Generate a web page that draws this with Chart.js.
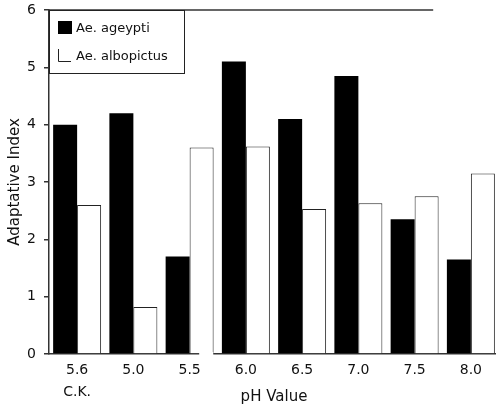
<!DOCTYPE html>
<html><head><meta charset="utf-8">
<script src="https://cdn.jsdelivr.net/npm/chart.js@4"></script>
<style>html,body{margin:0;padding:0;background:#fff;overflow:hidden}</style></head>
<body><canvas id="c" width="500" height="408"></canvas>
<script>
const categories = [["5.6","C.K."],"5.0","5.5","6.0","6.5","7.0","7.5","8.0"];
const ageypti = [4.0, 4.2, 1.7, 5.1, 4.1, 4.85, 2.35, 1.65];
const albopictus = [2.6, 0.82, 3.6, 3.62, 2.53, 2.63, 2.75, 3.15];
const seriesNames = ["Ae. ageypti", "Ae. albopictus"];
const yMin = 0, yMax = 6, yStep = 1;

const FONT = 'DejaVu Sans';
const INK = '#111';
const AXIS = '#333';

const framePlugin = {
  id: 'frame',
  afterDatasetsDraw(chart) {
    const {ctx, chartArea: {left, top, bottom}} = chart;
    const xs = chart.scales.x;
    const cw = xs.getPixelForValue(1) - xs.getPixelForValue(0);
    ctx.save();
    // top frame line (partial, as in the original)
    ctx.strokeStyle = AXIS; ctx.lineWidth = 1.5;
    ctx.beginPath(); ctx.moveTo(left, top); ctx.lineTo(xs.getPixelForValue(6) + 0.33 * cw, top); ctx.stroke();
    // axis break between 5.5 and 6.0
    ctx.fillStyle = '#fff';
    const g0 = xs.getPixelForValue(2) + 0.17 * cw, g1 = xs.getPixelForValue(2) + 0.42 * cw;
    ctx.fillRect(g0, bottom - 2, g1 - g0, 4);
    // legend box
    const w = 135, h = 63;
    ctx.fillStyle = '#fff'; ctx.fillRect(left, top, w, h);
    ctx.strokeStyle = '#222'; ctx.lineWidth = 1;
    ctx.strokeRect(left + 0.5, top + 0.5, w, h);
    chart.data.datasets.forEach((ds, i) => {
      const sy = top + 11 + i * 28, sx = left + 9;
      if (i === 0) { ctx.fillStyle = ds.backgroundColor; ctx.fillRect(sx, sy, 14, 13); }
      else {
        ctx.strokeStyle = ds.borderColor; ctx.beginPath();
        ctx.moveTo(sx + 0.5, sy); ctx.lineTo(sx + 0.5, sy + 12.5); ctx.lineTo(sx + 13, sy + 12.5); ctx.stroke();
      }
      ctx.fillStyle = INK; ctx.font = '13px "' + FONT + '"'; ctx.textBaseline = 'middle'; ctx.textAlign = 'left';
      ctx.fillText(ds.label, left + 27, sy + 8);
    });
    ctx.restore();
  }
};

new Chart(document.getElementById('c'), {
  type: 'bar',
  data: {
    labels: categories,
    datasets: [
      { label: seriesNames[0], data: ageypti, backgroundColor: '#000', borderWidth: 0 },
      { label: seriesNames[1], data: albopictus, backgroundColor: '#fff', borderColor: '#222', borderWidth: 1 }
    ]
  },
  options: {
    responsive: false,
    animation: false,
    devicePixelRatio: 1,
    categoryPercentage: 0.853,
    barPercentage: 1,
    layout: { padding: { top: 10, left: 1, right: 1, bottom: 0 } },
    plugins: { legend: { display: false }, tooltip: { enabled: false } },
    scales: {
      x: {
        offset: true,
        grid: { display: false, drawTicks: false },
        border: { display: true, color: AXIS, width: 1.5 },
        ticks: { color: INK, font: { family: FONT, size: 14, lineHeight: 1.55 }, padding: 6, autoSkip: false, maxRotation: 0 },
        title: { display: true, text: 'pH Value', color: INK, font: { family: FONT, size: 15 }, padding: { top: 0, bottom: 2 } },
        afterFit(s) { s.height = 54; s.paddingLeft = 0; s.paddingRight = 0; }
      },
      y: {
        min: yMin, max: yMax,
        grid: { drawOnChartArea: false, drawTicks: true, tickLength: 5, color: AXIS, lineWidth: 1.5 },
        border: { display: true, color: AXIS, width: 1.5 },
        ticks: { stepSize: yStep, color: INK, font: { family: FONT, size: 14 }, padding: 8 },
        title: { display: true, text: 'Adaptative Index', color: INK, font: { family: FONT, size: 15 }, padding: { top: 5, bottom: 0 } },
        afterFit(s) { s.width = 48; s.paddingTop = 0; s.paddingBottom = 0; }
      }
    }
  },
  plugins: [framePlugin]
});
</script>
</body></html>
